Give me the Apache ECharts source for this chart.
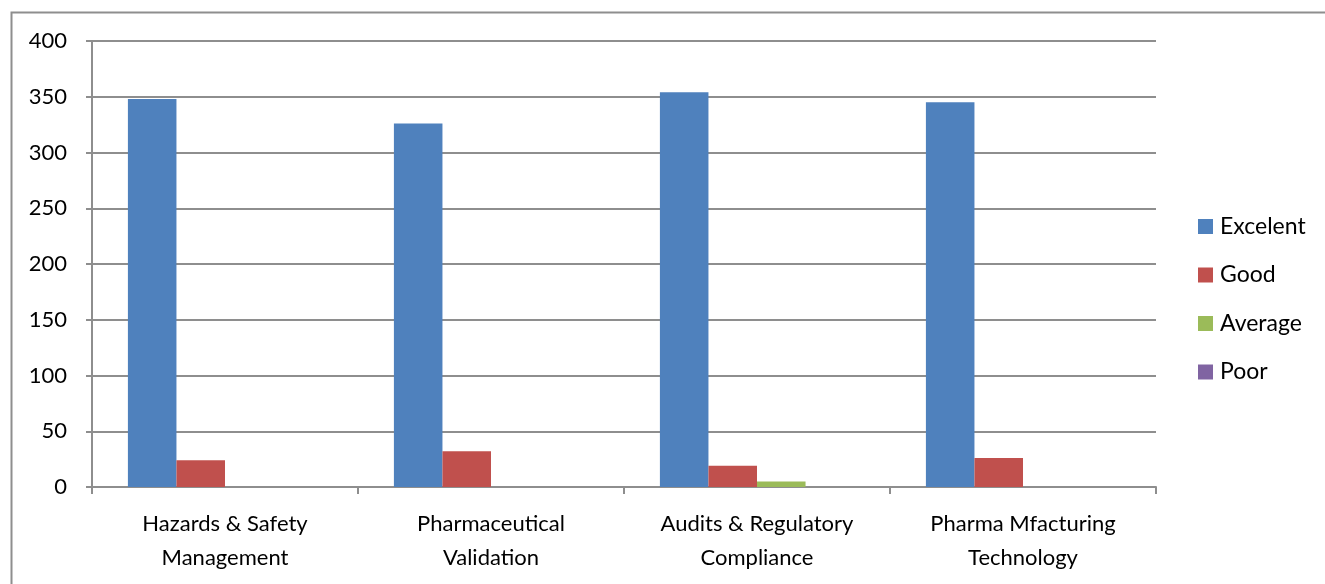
<!DOCTYPE html>
<html>
<head>
<meta charset="utf-8">
<script src="https://cdn.jsdelivr.net/npm/echarts@6/dist/echarts.min.js"></script>
<style>
html,body{margin:0;padding:0;background:#fff;}
#c{width:1325px;height:584px;}
</style>
</head>
<body>
<div id="c"></div>
<script>
const categories = ["Hazards & Safety\nManagement", "Pharmaceutical\nValidation", "Audits & Regulatory\nCompliance", "Pharma Mfacturing\nTechnology"];
const seriesNames = ["Excelent", "Good", "Average", "Poor"];
const excelent = [348, 326, 354, 345];
const good = [24, 32, 19, 26];
const average = [0, 0, 5, 0];
const poor = [0, 0, 0, 0];
const yTicks = {min: 0, max: 400, interval: 50};

const colors = ["#4F81BD", "#C0504D", "#9BBB59", "#8064A2"];
const gridColor = "#8e8e8e";
const fontFamily = "Lato";
const values = [excelent, good, average, poor];

const chart = echarts.init(document.getElementById('c'), null, {renderer: 'canvas'});
chart.setOption({
  animation: false,
  backgroundColor: '#fff',
  textStyle: {fontFamily: fontFamily},
  graphic: [{
    type: 'rect',
    left: 9, top: 10,
    shape: {width: 1340, height: 600},
    style: {fill: 'none', stroke: gridColor, lineWidth: 2},
    silent: true
  }],
  grid: {left: 92, right: 169, top: 41, bottom: 97},
  legend: {
    orient: 'vertical',
    left: 1198, top: 215,
    padding: 0,
    itemWidth: 15, itemHeight: 15,
    itemGap: 25.5,
    icon: 'rect',
    textStyle: {fontSize: 23, color: '#000', fontFamily: fontFamily, lineHeight: 23, padding: [0,0,0,2]},
    data: seriesNames
  },
  xAxis: {
    type: 'category',
    data: categories,
    axisLine: {lineStyle: {color: gridColor, width: 2}},
    axisTick: {show: true, length: 7, lineStyle: {color: gridColor, width: 2}},
    axisLabel: {color: '#000', fontSize: 22, lineHeight: 34, margin: 20, interval: 0, fontFamily: fontFamily}
  },
  yAxis: {
    type: 'value',
    min: yTicks.min, max: yTicks.max, interval: yTicks.interval,
    axisLine: {show: true, lineStyle: {color: gridColor, width: 2}},
    axisTick: {show: true, length: 6, lineStyle: {color: gridColor, width: 2}},
    splitLine: {lineStyle: {color: gridColor, width: 2}},
    axisLabel: {color: '#000', fontSize: 22, margin: 25, fontFamily: fontFamily}
  },
  series: seriesNames.map((n, i) => ({
    name: n,
    type: 'bar',
    data: values[i],
    barGap: '0%',
    barCategoryGap: '27%',
    itemStyle: {color: colors[i]}
  }))
});
</script>
</body>
</html>
